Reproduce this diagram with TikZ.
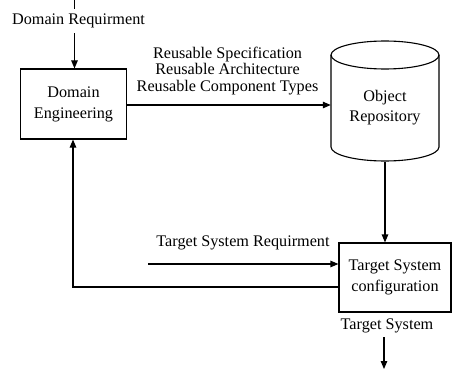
\documentclass[tikz,border=0pt]{standalone}
\usepackage{fontspec}
\setmainfont{Liberation Serif}
\usetikzlibrary{arrows.meta}
\begin{document}
\begin{tikzpicture}[x=1pt,y=-1pt,
  every node/.style={font=\fontsize{16.2}{21}\selectfont},
  box/.style={draw, line width=1.1pt, align=center, inner sep=0pt},
  conn/.style={line width=1.1pt},
  flow/.style={conn, -{Triangle[length=8pt,width=6.5pt]}}]
\useasboundingbox (0,0) rectangle (452,369);

% process boxes
\node[box, minimum width=106pt, minimum height=70pt] (dom) at (73.5,104) {Domain\\Engineering};
\node[box, minimum width=112pt, minimum height=69pt] (tsc) at (395,277.5) {Target System\\configuration};

% object repository drawn as a cylinder
\node[minimum width=108pt, minimum height=121pt, inner sep=0pt] (repo) at (385,101.5) {};
\draw[conn] (331,55) -- (331,147) arc[start angle=180, end angle=0, x radius=54, y radius=14] -- (439,55);
\draw[conn] (385,55) ellipse[x radius=54, y radius=14];
\node[align=center, font=\fontsize{16.2}{20}\selectfont] (repotext) at (385,108) {Object\\Repository};

% domain requirement input
\coordinate (dtop) at (74.5,0);
\node[inner xsep=2pt, inner ysep=5pt] (dreq) at (78.5,21) {Domain Requirment};
\draw[conn] (dtop) -- (dtop |- dreq.north);
\draw[flow] (dtop |- dreq.south) -- (dtop |- dom.north);

% reusable assets to repository
\node[align=center, font=\fontsize{16.2}{16.5}\selectfont] (reuse) at (227.5,71) {Reusable Specification\\Reusable Architecture\\Reusable Component Types};
\draw[flow] (dom.east |- 0,105) -- (repo.west |- 0,105);

% repository to configuration
\draw[flow] (repo.south) -- (repo.south |- tsc.north);

% target system requirement input
\coordinate (treqstart) at (148,264);
\node (treq) at (243,243) {Target System Requirment};
\draw[flow] (treqstart) -- (treqstart -| tsc.west);

% feedback to domain engineering
\coordinate (fb) at (73,287);
\draw[flow] (fb -| tsc.west) -- (fb) -- (fb |- dom.south);

% target system output
\node (tsout) at (387,326) {Target System};
\coordinate (outstart) at (384,337);
\coordinate (outend) at (384,369);
\draw[flow] (outstart) -- (outend);
\end{tikzpicture}
\end{document}
